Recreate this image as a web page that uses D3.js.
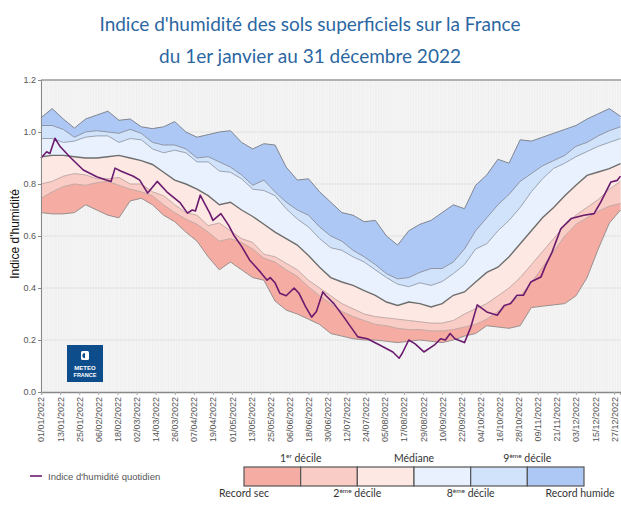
<!DOCTYPE html>
<html>
<head>
<meta charset="utf-8">
<title>Indice d'humidité des sols superficiels</title>
<script src="https://cdn.jsdelivr.net/npm/d3@7"></script>
<style>
  body { margin: 0; background: #fff; }
  svg { display: block; }
</style>
</head>
<body>
<script>
// days since 01/01/2022 for the climatology samples
var sampleDays = [0, 7, 14, 21, 28, 35, 42, 49, 56, 63, 70, 77, 84, 91, 98, 105, 112, 119, 126, 133, 140, 147, 154, 161, 168, 175, 182,
  189, 196, 203, 210, 217, 224, 231, 238, 245, 252, 259, 266, 273, 280, 287, 294, 301, 308, 315, 322, 329, 336, 343, 350, 357, 364];

var recordHumide = [1.055, 1.09, 1.05, 1.015, 1.05, 1.065, 1.08, 1.045, 1.05, 1.02, 1.013, 1.02, 1.04, 1.0, 0.98, 0.99, 1.0, 1.005, 0.96, 0.935, 0.955, 0.95, 0.865, 0.815, 0.82, 0.77, 0.73,
  0.69, 0.68, 0.655, 0.66, 0.6, 0.565, 0.62, 0.645, 0.66, 0.69, 0.72, 0.705, 0.795, 0.835, 0.895, 0.88, 0.97, 0.965, 0.98, 0.995, 1.01, 1.025, 1.05, 1.07, 1.09, 1.06];
var decile9 = [1.025, 1.025, 1.01, 0.98, 1.0, 1.005, 1.0, 0.995, 1.01, 0.995, 0.96, 0.95, 0.95, 0.935, 0.9, 0.905, 0.885, 0.865, 0.835, 0.795, 0.815, 0.77, 0.73, 0.70, 0.68, 0.635, 0.60,
  0.58, 0.545, 0.52, 0.49, 0.455, 0.435, 0.44, 0.46, 0.475, 0.475, 0.50, 0.55, 0.62, 0.67, 0.72, 0.76, 0.81, 0.84, 0.87, 0.89, 0.91, 0.945, 0.96, 0.985, 1.005, 1.02];
var decile8 = [0.975, 0.975, 0.96, 0.965, 0.98, 0.985, 0.985, 0.96, 0.975, 0.97, 0.935, 0.92, 0.93, 0.92, 0.885, 0.885, 0.85, 0.845, 0.82, 0.78, 0.775, 0.755, 0.705, 0.665, 0.635, 0.59, 0.555,
  0.545, 0.52, 0.50, 0.47, 0.44, 0.415, 0.405, 0.42, 0.41, 0.425, 0.455, 0.49, 0.55, 0.57, 0.62, 0.66, 0.71, 0.77, 0.82, 0.86, 0.88, 0.905, 0.925, 0.945, 0.96, 0.975];
var mediane = [0.905, 0.91, 0.91, 0.905, 0.9, 0.9, 0.905, 0.91, 0.9, 0.89, 0.875, 0.845, 0.815, 0.8, 0.78, 0.755, 0.72, 0.73, 0.70, 0.675, 0.645, 0.615, 0.59, 0.565, 0.525, 0.48, 0.44,
  0.423, 0.41, 0.39, 0.372, 0.346, 0.333, 0.346, 0.34, 0.327, 0.34, 0.372, 0.385, 0.423, 0.46, 0.48, 0.52, 0.57, 0.62, 0.67, 0.71, 0.755, 0.795, 0.833, 0.846, 0.859, 0.878];
var decile2 = [0.80, 0.81, 0.83, 0.84, 0.835, 0.82, 0.82, 0.825, 0.80, 0.80, 0.77, 0.755, 0.72, 0.69, 0.68, 0.64, 0.65, 0.62, 0.59, 0.575, 0.53, 0.52, 0.495, 0.47, 0.43, 0.40, 0.37,
  0.34, 0.32, 0.30, 0.29, 0.285, 0.28, 0.275, 0.27, 0.265, 0.265, 0.275, 0.30, 0.32, 0.34, 0.37, 0.40, 0.44, 0.49, 0.54, 0.59, 0.64, 0.68, 0.71, 0.74, 0.78, 0.81];
var decile1 = [0.745, 0.77, 0.79, 0.80, 0.795, 0.805, 0.81, 0.795, 0.78, 0.77, 0.755, 0.72, 0.69, 0.665, 0.645, 0.615, 0.58, 0.59, 0.575, 0.55, 0.515, 0.50, 0.47, 0.445, 0.405, 0.37, 0.34,
  0.31, 0.29, 0.275, 0.26, 0.255, 0.245, 0.24, 0.24, 0.235, 0.235, 0.24, 0.25, 0.26, 0.28, 0.31, 0.34, 0.37, 0.42, 0.48, 0.54, 0.60, 0.645, 0.67, 0.695, 0.715, 0.725];
var recordSec = [0.69, 0.685, 0.685, 0.69, 0.72, 0.70, 0.68, 0.67, 0.735, 0.745, 0.72, 0.68, 0.655, 0.615, 0.58, 0.52, 0.47, 0.50, 0.47, 0.44, 0.43, 0.35, 0.315, 0.30, 0.28, 0.26, 0.225,
  0.215, 0.205, 0.20, 0.20, 0.195, 0.19, 0.195, 0.20, 0.195, 0.19, 0.20, 0.215, 0.225, 0.255, 0.25, 0.245, 0.255, 0.325, 0.33, 0.335, 0.34, 0.37, 0.44, 0.55, 0.65, 0.70];

// daily index 2022 (key points)
var dailyDays = [0, 3.6, 5.6, 8.8, 12, 18, 26.6, 35, 41, 44, 46.5, 50, 58, 62, 67, 73, 79, 87.5, 92, 95, 97, 100, 106, 108, 113, 118, 121, 126, 131, 138, 142, 144, 147, 150, 154, 159, 162, 166, 170, 173, 177, 179,
  184, 190, 199, 205, 213, 221, 225, 227, 231, 235, 240.5, 247, 251, 254, 257, 260, 266, 270, 274, 280, 286.6, 291, 295, 299, 303, 307.6, 314, 317, 321, 326.5, 333, 341, 347.4, 351.6, 358, 362, 364];
var dailyValues = [0.90, 0.924, 0.917, 0.976, 0.944, 0.905, 0.854, 0.828, 0.815, 0.81, 0.861, 0.85, 0.83, 0.815, 0.765, 0.81, 0.77, 0.727, 0.688, 0.70, 0.696, 0.757, 0.688, 0.66, 0.686, 0.64, 0.604, 0.56, 0.508, 0.46, 0.43, 0.44, 0.42, 0.38, 0.37, 0.40, 0.38, 0.33, 0.288, 0.31, 0.385, 0.37,
  0.34, 0.29, 0.212, 0.205, 0.18, 0.154, 0.13, 0.15, 0.2, 0.185, 0.154, 0.18, 0.205, 0.2, 0.225, 0.205, 0.19, 0.25, 0.335, 0.308, 0.295, 0.333, 0.34, 0.372, 0.372, 0.423, 0.442, 0.487, 0.538, 0.628, 0.667, 0.68, 0.686, 0.73, 0.808, 0.814, 0.83];

var xTickLabels = ["01/01/2022", "13/01/2022", "25/01/2022", "06/02/2022", "18/02/2022", "02/03/2022", "14/03/2022", "26/03/2022",
  "07/04/2022", "19/04/2022", "01/05/2022", "13/05/2022", "25/05/2022", "06/06/2022", "18/06/2022", "30/06/2022", "12/07/2022",
  "24/07/2022", "05/08/2022", "17/08/2022", "29/08/2022", "10/09/2022", "22/09/2022", "04/10/2022", "16/10/2022", "28/10/2022",
  "09/11/2022", "21/11/2022", "03/12/2022", "15/12/2022", "27/12/2022"];
var yTicks = [0, 0.2, 0.4, 0.6, 0.8, 1.0, 1.2];

var bandColors = ["#f5aca2", "#f9cdc5", "#fde8e3", "#e8f1fd", "#d1e2fb", "#aec8f5"];
var legendLabels = [["Record sec"], ["1", "er", " décile"], ["2", "ème", " décile"], ["Médiane"], ["8", "ème", " décile"], ["9", "ème", " décile"], ["Record humide"]];

var w = 621, h = 507;
var start = new Date(2022, 0, 1);
var parseDate = d3.timeParse("%d/%m/%Y");

var svg = d3.select("body").append("svg").attr("width", w).attr("height", h);

var x = d3.scaleTime().domain([start, new Date(2022, 11, 31)]).range([41, 620.5]);
var y = d3.scaleLinear().domain([0, 1.2]).range([392, 80]);

// title
var title = svg.append("g").attr("font-family", "Lato, 'Open Sans', sans-serif").attr("fill", "#2c67a2")
  .attr("text-anchor", "middle").attr("font-size", 19);
title.append("text").attr("x", 310).attr("y", 31).text("Indice d'humidité des sols superficiels sur la France");
title.append("text").attr("x", 310).attr("y", 63).text("du 1er janvier au 31 décembre 2022");

// plot background with daily stripes
svg.append("rect").attr("x", 41).attr("y", 80).attr("width", 580).attr("height", 312).attr("fill", "#f8f8f8");
svg.append("g").selectAll("line")
  .data(d3.timeDay.range(start, new Date(2023, 0, 1)))
  .enter().append("line")
  .attr("x1", function (d) { return x(d); })
  .attr("x2", function (d) { return x(d); })
  .attr("y1", 80).attr("y2", 392)
  .attr("stroke", "#e9e9e9").attr("stroke-width", 0.6);

svg.append("g").selectAll("line")
  .data(yTicks.slice(1, -1))
  .enter().append("line")
  .attr("x1", 41).attr("x2", 621)
  .attr("y1", function (d) { return y(d); })
  .attr("y2", function (d) { return y(d); })
  .attr("stroke", "#e2e2e2").attr("stroke-width", 1);

// climatology bands
var series = [recordSec, decile1, decile2, mediane, decile8, decile9, recordHumide];
var rows = sampleDays.map(function (d, i) {
  return { date: d3.timeDay.offset(start, d), v: series.map(function (s) { return s[i]; }) };
});

var bands = svg.append("g");
bandColors.forEach(function (c, k) {
  bands.append("path").datum(rows)
    .attr("fill", c)
    .attr("d", d3.area()
      .x(function (d) { return x(d.date); })
      .y0(function (d) { return y(d.v[k]); })
      .y1(function (d) { return y(d.v[k + 1]); }));
});

var lineColors = ["#9a8f8f", "#c4a8a3", "#c2aaa6", "#6e6e6e", "#9aa3b2", "#8e96a6", "#7f8590"];
var lineWidths = [1, 1, 1, 1.4, 1, 1, 1];
series.forEach(function (s, k) {
  bands.append("path").datum(rows)
    .attr("fill", "none")
    .attr("stroke", lineColors[k])
    .attr("stroke-width", lineWidths[k])
    .attr("d", d3.line()
      .x(function (d) { return x(d.date); })
      .y(function (d) { return y(d.v[k]); }));
});

// daily index
var daily = dailyDays.map(function (d, i) {
  return { date: d3.timeHour.offset(start, d * 24), v: dailyValues[i] };
});
svg.append("path").datum(daily)
  .attr("fill", "none")
  .attr("stroke", "#6b1a6e")
  .attr("stroke-width", 1.6)
  .attr("stroke-linejoin", "round")
  .attr("d", d3.line().x(function (d) { return x(d.date); }).y(function (d) { return y(d.v); }));

// frame
svg.append("line").attr("x1", 41).attr("x2", 621).attr("y1", 80).attr("y2", 80)
  .attr("stroke", "#9a9a9a").attr("stroke-width", 1.5);

// axes
var yAxis = svg.append("g").attr("transform", "translate(41,0)")
  .call(d3.axisLeft(y).tickValues(yTicks).tickFormat(d3.format(".1f")).tickSize(3).tickPadding(2));
yAxis.selectAll("text").attr("font-family", "Liberation Sans, Arial, sans-serif").attr("font-size", 9).attr("fill", "#555");
yAxis.selectAll("line").attr("stroke", "#888");
yAxis.select(".domain").attr("stroke", "#888");

var xAxis = svg.append("g").attr("transform", "translate(0,392)")
  .call(d3.axisBottom(x).tickValues(xTickLabels.map(parseDate)).tickFormat(d3.timeFormat("%d/%m/%Y")).tickSize(3));
xAxis.select(".domain").attr("stroke", "#888").attr("stroke-width", 1.3);
xAxis.selectAll("line").attr("stroke", "#aaa");
xAxis.selectAll("text")
  .attr("font-family", "'Liberation Sans Narrow', 'Liberation Sans', Arial, sans-serif")
  .attr("font-size", 9).attr("fill", "#555")
  .attr("transform", "rotate(-90)")
  .attr("x", -5).attr("y", 0).attr("dy", "0.33em")
  .style("text-anchor", "end");

svg.append("text")
  .attr("transform", "translate(19,234) rotate(-90)")
  .attr("text-anchor", "middle")
  .attr("font-family", "Liberation Sans, Arial, sans-serif")
  .attr("font-size", 12).attr("fill", "#111")
  .text("Indice d'humidité");

// Météo-France logo
var logo = svg.append("g").attr("transform", "translate(67,345)");
logo.append("rect").attr("width", 36).attr("height", 37).attr("fill", "#0e4d8c");
logo.append("rect").attr("x", 14).attr("y", 6).attr("width", 8).attr("height", 9).attr("rx", 1.5).attr("fill", "#fff");
logo.append("path").attr("d", "M18,8 a2.6,2.6 0 0,0 0,5.2 z").attr("fill", "#0e4d8c");
logo.append("text").attr("x", 18).attr("y", 25).attr("text-anchor", "middle").attr("font-family", "Liberation Sans, Arial, sans-serif")
  .attr("font-weight", "bold").attr("font-size", 6).attr("fill", "#fff").text("METEO");
logo.append("text").attr("x", 18).attr("y", 32).attr("text-anchor", "middle").attr("font-family", "Liberation Sans, Arial, sans-serif")
  .attr("font-weight", "bold").attr("font-size", 5.5).attr("fill", "#fff").text("FRANCE");

// legend: daily index
var lg = svg.append("g");
lg.append("line").attr("x1", 30).attr("x2", 42).attr("y1", 476).attr("y2", 476).attr("stroke", "#6b1a6e").attr("stroke-width", 1.6);
lg.append("text").attr("x", 48).attr("y", 479.5).attr("font-family", "Liberation Sans, Arial, sans-serif")
  .attr("font-size", 9.5).attr("fill", "#555").text("Indice d'humidité quotidien");

// legend: bands
var lx = d3.scaleLinear().domain([0, 6]).range([244, 584]);
lg.selectAll("rect.box").data(bandColors).enter().append("rect")
  .attr("class", "box")
  .attr("x", function (d, i) { return lx(i); })
  .attr("y", 467).attr("width", lx(1) - lx(0)).attr("height", 19)
  .attr("fill", function (d) { return d; })
  .attr("stroke", "#555").attr("stroke-width", 1.2);

var lt = lg.selectAll("text.lab").data(legendLabels).enter().append("text")
  .attr("class", "lab")
  .attr("x", function (d, i) { return i === 6 ? lx(i) - 4 : lx(i); })
  .attr("y", function (d, i) { return i % 2 ? 462 : 497; })
  .attr("text-anchor", "middle")
  .attr("font-family", "Lato, 'Open Sans', sans-serif")
  .attr("font-size", 10.5).attr("fill", "#333");
lt.each(function (parts) {
  var t = d3.select(this);
  t.append("tspan").text(parts[0]);
  if (parts.length > 1) {
    t.append("tspan").attr("font-size", 6.5).attr("dy", -4).text(parts[1]);
    t.append("tspan").attr("dy", 4).text(parts[2]);
  }
});
</script>
</body>
</html>
